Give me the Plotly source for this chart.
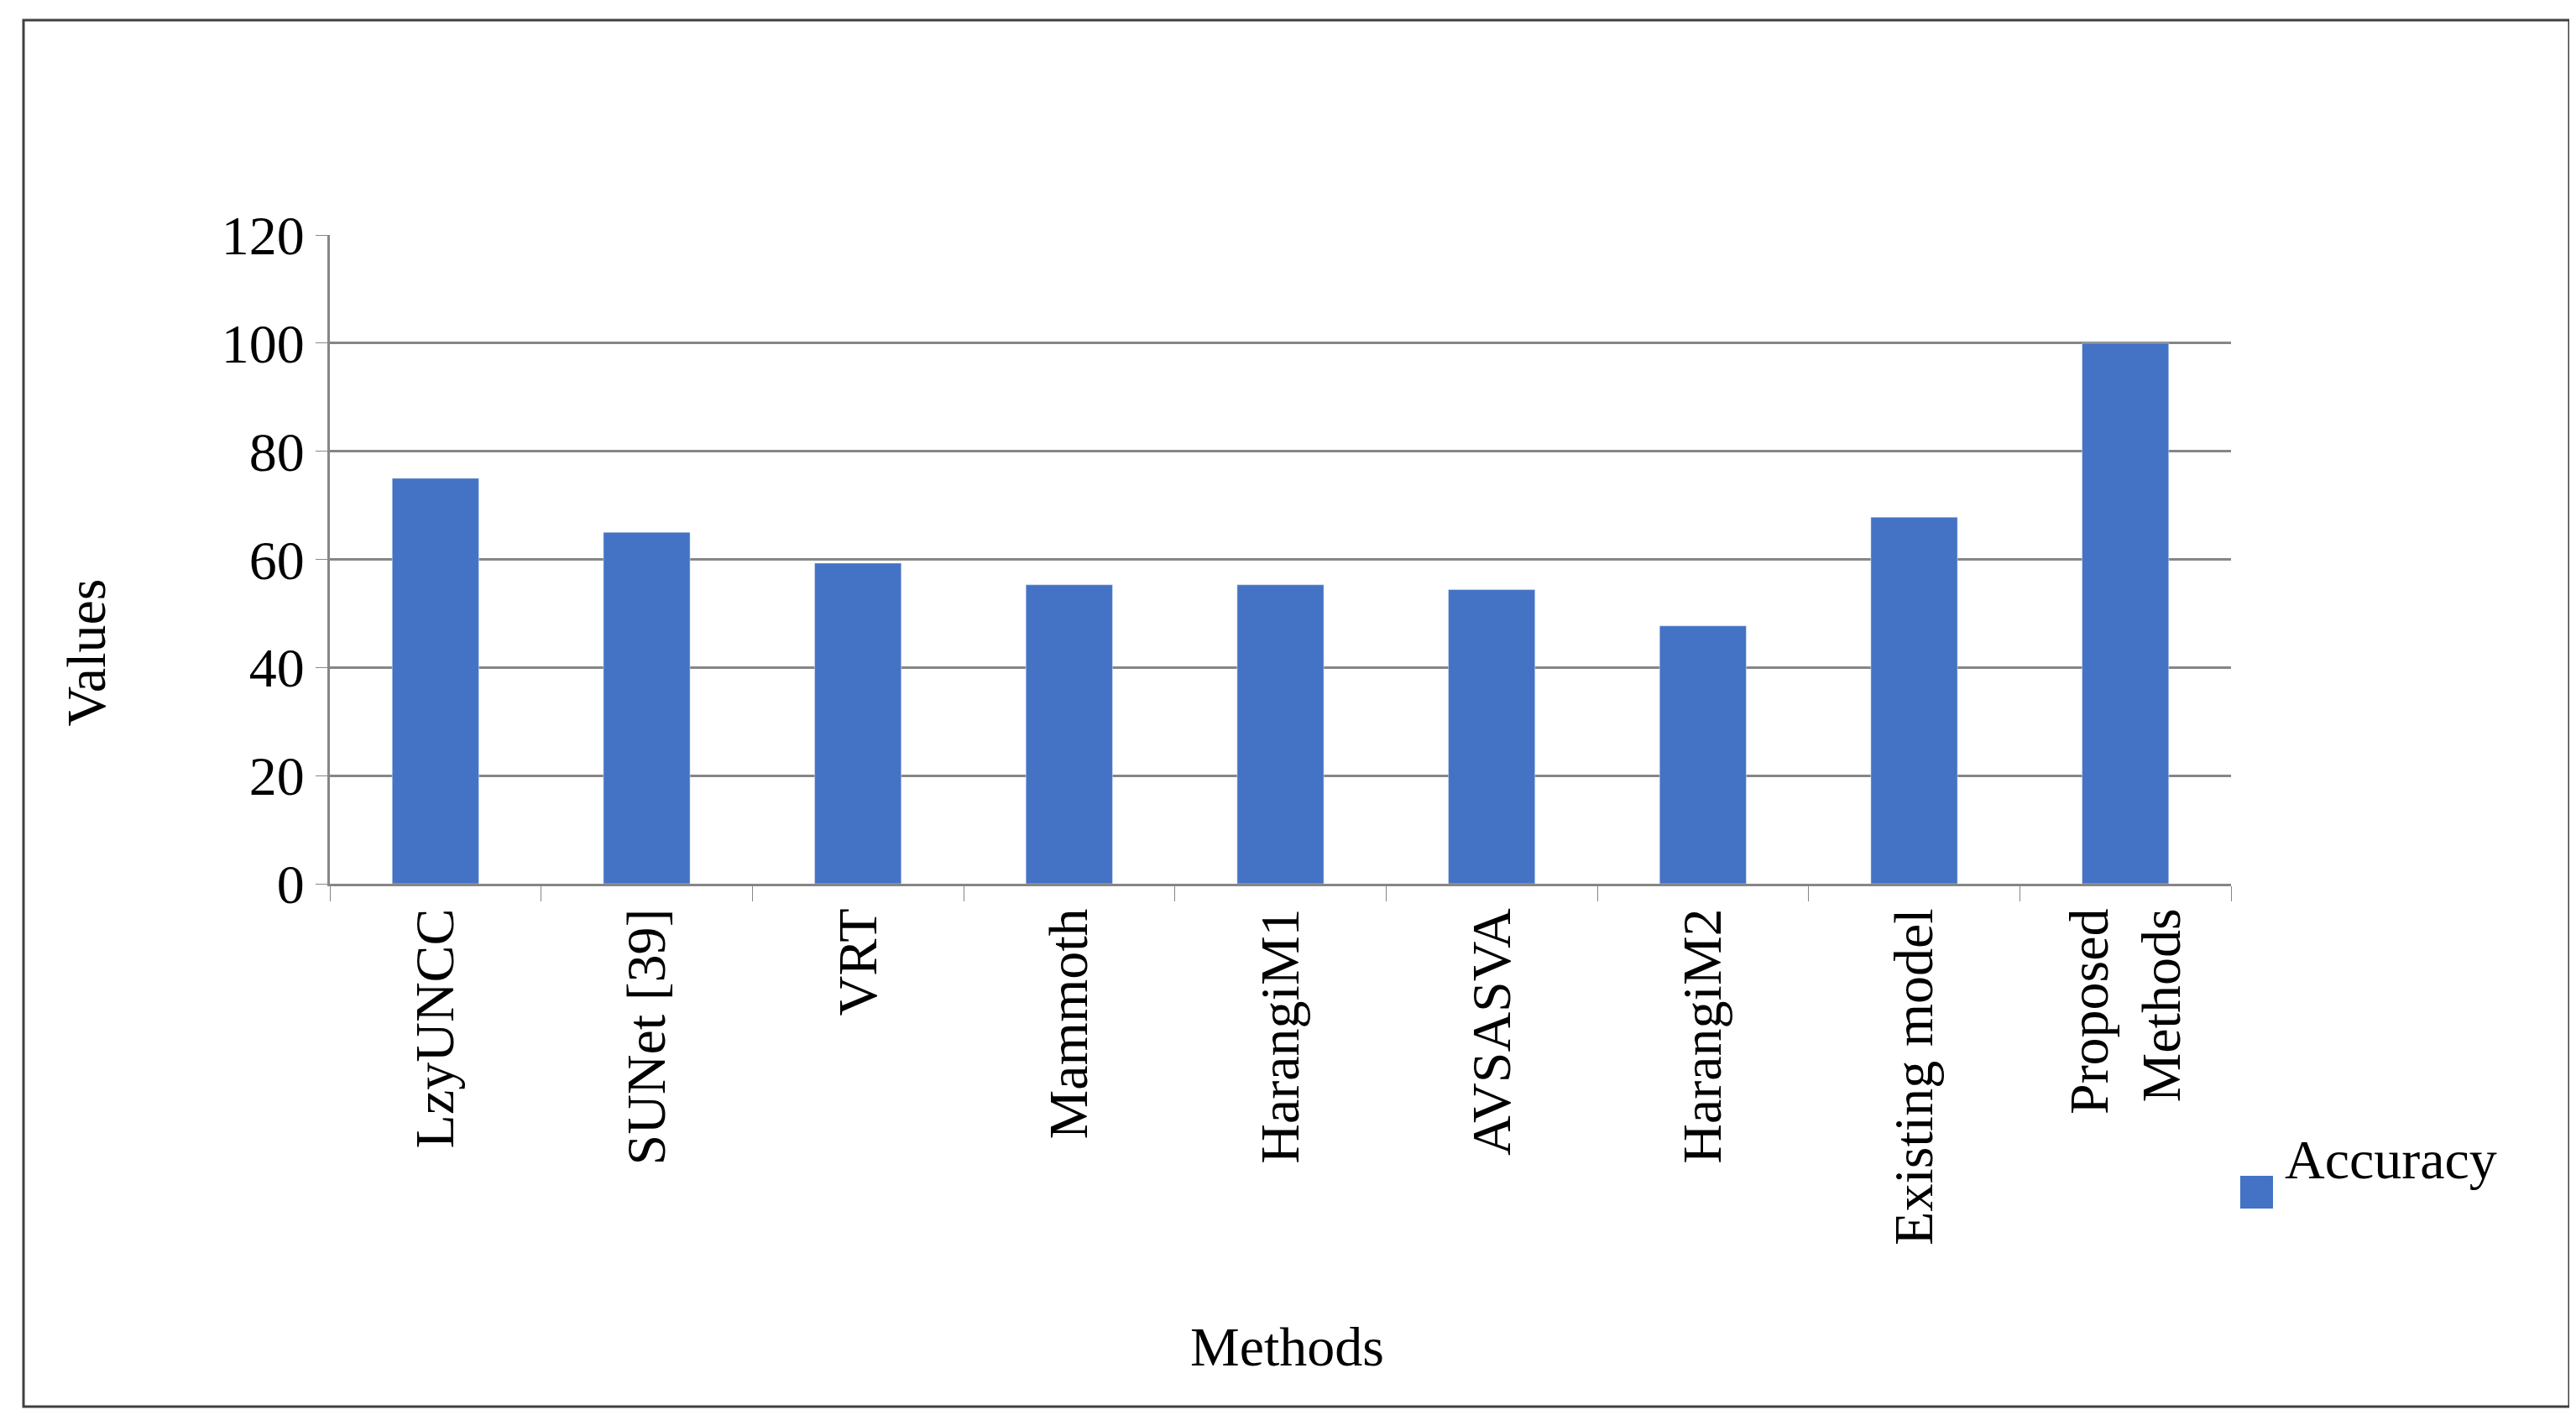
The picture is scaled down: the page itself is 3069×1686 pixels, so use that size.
import plotly.graph_objects as go

methods = ["LzyUNCC", "SUNet [39]", "VRT", "Mammoth", "HarangiM1", "AVSASVA",
           "HarangiM2", "Existing model", "Proposed<br>Methods"]
accuracy = [75, 65, 59.3, 55.3, 55.3, 54.4, 47.7, 67.8, 100]

W, H = 3069, 1686
L, R, T, B = 385, 419, 272, 641
pw, ph = W - L - R, H - T - B

def px(x): return (x - L) / pw
def py(y): return (H - B - y) / ph

font = "Liberation Serif"
color = "#4472C4"
fig = go.Figure(go.Bar(x=methods, y=accuracy, name="Accuracy", marker_color=color,
                       showlegend=False))
fig.update_layout(
    width=W, height=H, margin=dict(l=L, r=R, t=T, b=B),
    paper_bgcolor="white", plot_bgcolor="white",
    font=dict(family=font, size=66, color="black"),
    bargap=0.59,
    xaxis=dict(tickangle=-90, tickson="boundaries", ticks="outside", ticklen=18,
               tickcolor="#868686", showline=True, linecolor="#868686", linewidth=3,
               tickfont=dict(size=66, family=font)),
    yaxis=dict(range=[0, 120], dtick=20, showgrid=True, gridcolor="#868686", gridwidth=3,
               showline=True, linecolor="#868686", linewidth=3, ticks="outside",
               ticklen=14, tickcolor="#868686", zeroline=False,
               tickfont=dict(size=66, family=font)),
    shapes=[dict(type="rect", xref="paper", yref="paper",
                 x0=px(20), x1=px(3053), y0=py(1668), y1=py(16),
                 line=dict(color="#404040", width=3)),
            dict(type="rect", xref="paper", yref="paper",
                 x0=px(2661), x1=px(2700), y0=py(1432), y1=py(1393),
                 fillcolor=color, line=dict(width=0))],
    annotations=[
        dict(text="Values", xref="paper", yref="paper", x=px(55), y=py(860),
             textangle=-90, showarrow=False, font=dict(size=66, family=font)),
        dict(text="Methods", xref="paper", yref="paper", x=px(1525), y=py(1635),
             showarrow=False, font=dict(size=66, family=font)),
        dict(text="Accuracy", xref="paper", yref="paper", x=px(2712), y=py(1412),
             xanchor="left", showarrow=False, font=dict(size=66, family=font)),
    ],
)
fig.write_html("out.html")
